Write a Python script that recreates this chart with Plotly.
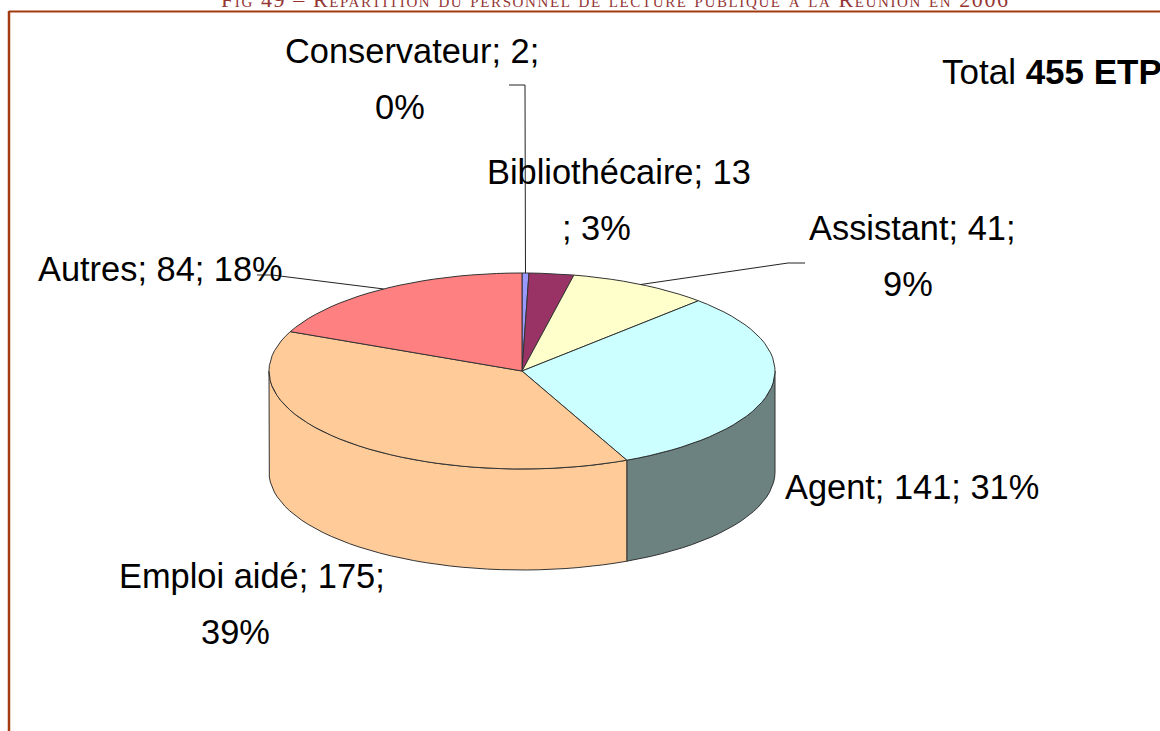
import numpy as np
import plotly.graph_objects as go

# Effectifs de lecture publique, en ETP
categories = ["Conservateur", "Bibliothécaire", "Assistant", "Agent", "Emploi aidé", "Autres"]
etp = [2, 13, 41, 141, 175, 84]
percent = [0, 3, 9, 31, 39, 18]
total_etp = 455
top_colors = ["#9999FF", "#993366", "#FFFFCC", "#CCFFFF", "#FFCC99", "#FF8080"]
side_colors = ["#5C5C99", "#5C1F3D", "#99997A", "#6B8280", "#FFCC99", "#994D4D"]

# Coupure des étiquettes sur deux lignes : (ligne, centre x, centre y)
label_lines = {
    "Conservateur": [("{n}; {v};", 412, 51), ("{p}%", 400, 107)],
    "Bibliothécaire": [("{n}; {v}", 619, 172), ("; {p}%", 596, 228)],
    "Assistant": [("{n}; {v};", 912, 228), ("{p}%", 908, 284)],
    "Agent": [("{n}; {v}; {p}%", 912, 487)],
    "Emploi aidé": [("{n}; {v};", 252, 576), ("{p}%", 235, 632)],
    "Autres": [("{n}; {v}; {p}%", 160, 269)],
}
# Coudes des lignes de rappel, depuis le milieu de la tranche vers l'étiquette
leader_paths = {
    "Conservateur": [(525, 85), (509, 85)],
    "Assistant": [(788, 263), (805, 263)],
    "Autres": [(272, 275), (257, 275)],
}

CX, CY, RX, RY, DEPTH = 522, 371, 253, 98, 101
FONT = "Liberation Sans, Arial, sans-serif"
LABEL_SIZE = 34.4
FRAME = "#A33B11"
OUTLINE = "#333333"

edges = np.cumsum([0] + etp) / sum(etp) * 2 * np.pi


def rim(t0, t1, lift=0):
    t = np.linspace(t0, t1, max(2, int((t1 - t0) / np.radians(3)) + 2))
    return CX + RX * np.sin(t), CY - RY * np.cos(t) + lift


fig = go.Figure()


def polygon(x, y, fill):
    fig.add_trace(go.Scatter(
        x=x, y=y, mode="lines", fill="toself", fillcolor=fill,
        line=dict(color=OUTLINE, width=1), hoverinfo="skip", showlegend=False,
    ))


# Parois visibles : seulement la moitié avant du disque
for i in range(len(etp)):
    a, b = max(edges[i], np.pi / 2), min(edges[i + 1], 3 * np.pi / 2)
    if a < b:
        xt, yt = rim(a, b)
        xb, yb = rim(a, b, DEPTH)
        polygon(np.r_[xt, xb[::-1], xt[0]], np.r_[yt, yb[::-1], yt[0]], side_colors[i])

# Face supérieure
for i in range(len(etp)):
    xt, yt = rim(edges[i], edges[i + 1])
    polygon(np.r_[CX, xt, CX], np.r_[CY, yt, CY], top_colors[i])

# Lignes de rappel
for i, name in enumerate(categories):
    if name in leader_paths:
        mid = (edges[i] + edges[i + 1]) / 2
        px = [CX + RX * np.sin(mid)] + [p[0] for p in leader_paths[name]]
        py = [CY - RY * np.cos(mid)] + [p[1] for p in leader_paths[name]]
        fig.add_trace(go.Scatter(
            x=px, y=py, mode="lines", line=dict(color="#222222", width=1),
            hoverinfo="skip", showlegend=False,
        ))

annotations = []
for name, v, p in zip(categories, etp, percent):
    for text, x, y in label_lines[name]:
        annotations.append(dict(
            x=x, y=y, text=text.format(n=name, v=v, p=p), showarrow=False,
            xanchor="center", yanchor="middle",
            font=dict(family=FONT, size=LABEL_SIZE, color="#000000"),
        ))

annotations.append(dict(
    x=940, y=71, text=f"Total <b>{total_etp} ETP</b>", showarrow=False,
    xanchor="left", yanchor="middle",
    font=dict(family=FONT, size=35, color="#000000"),
))
annotations.append(dict(
    x=615, y=0, yshift=1,
    text='<span style="letter-spacing:1.6px">Fig 49 – Répartition du personnel '
         'de lecture publique à la Réunion en 2006</span>',
    showarrow=False, xanchor="center", yanchor="middle",
    font=dict(family="Liberation Serif, serif", size=22, color="#943634", variant="small-caps"),
))

# Filet du cadre, en haut et à gauche
frame_shapes = [
    dict(type="line", x0=9, x1=1160, y0=11.5, y1=11.5, line=dict(color=FRAME, width=2)),
    dict(type="line", x0=9, x1=9, y0=11, y1=731, line=dict(color=FRAME, width=2.5)),
]

fig.update_layout(
    width=1160, height=731, margin=dict(l=0, r=0, t=0, b=0),
    paper_bgcolor="white", plot_bgcolor="white", showlegend=False,
    xaxis=dict(range=[0, 1160], visible=False, fixedrange=True),
    yaxis=dict(range=[731, 0], visible=False, fixedrange=True),
    annotations=annotations, shapes=frame_shapes,
)

fig.write_html("out.html", config=dict(displayModeBar=False))
